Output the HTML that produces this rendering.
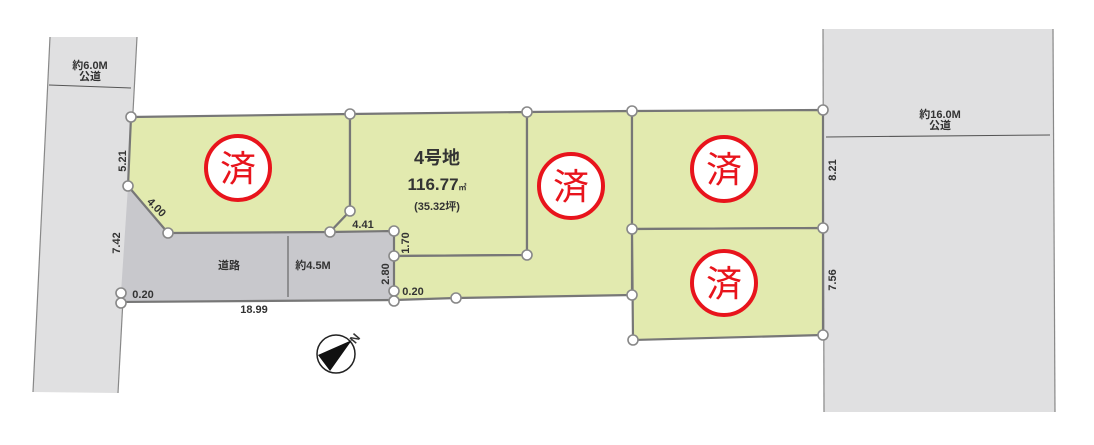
<!DOCTYPE html>
<html><head><meta charset="utf-8"><style>
html,body{margin:0;padding:0;background:#fff;}
svg{display:block;}
text{font-family:"Liberation Sans","Noto Sans CJK JP",sans-serif;fill:#333;font-weight:bold;}
</style></head><body>
<svg width="1094" height="445" viewBox="0 0 1094 445" xmlns="http://www.w3.org/2000/svg">
<!-- roads -->
<polygon points="50,37 137,37 118,393 33,392" fill="#e0e0e1"/>
<line x1="50" y1="37" x2="33" y2="392" stroke="#888" stroke-width="1.2"/>
<line x1="137" y1="37" x2="118" y2="393" stroke="#888" stroke-width="1.2"/>
<polygon points="823,29 1053,29 1055,412 824,412" fill="#e0e0e1"/>
<line x1="823" y1="29" x2="824" y2="412" stroke="#888" stroke-width="1.2"/>
<line x1="1053" y1="29" x2="1055" y2="412" stroke="#888" stroke-width="1.2"/>
<line x1="49" y1="85" x2="131" y2="88" stroke="#555" stroke-width="1"/>
<line x1="826" y1="137" x2="1050" y2="135" stroke="#555" stroke-width="1"/>
<text x="90" y="69" font-size="11" text-anchor="middle">約6.0M</text>
<text x="90" y="80" font-size="11" text-anchor="middle">公道</text>
<text x="940" y="118" font-size="11" text-anchor="middle">約16.0M</text>
<text x="940" y="129" font-size="11" text-anchor="middle">公道</text>
<!-- private road -->
<polygon points="128,186 168,233 394,231 394,300 121,302 121,293" fill="#c8c8cc"/>
<!-- lots -->
<g fill="#e2eaaf" stroke="#777" stroke-width="2.2" stroke-linejoin="round">
<polygon points="131,117 350,114 350,211 330,232 168,233 128,186"/>
<polygon points="350,114 527,112 527,255 394,256 394,231 330,232 350,211"/>
<polygon points="527,112 632,111 632,295 456,298 394,300 394,256 527,255"/>
<polygon points="632,111 823,110 823,228 632,229"/>
<polygon points="632,229 823,228 823,335 633,340"/>
</g>
<line x1="121" y1="302" x2="394" y2="300" stroke="#777" stroke-width="2.2"/>
<line x1="121" y1="293" x2="121" y2="302" stroke="#777" stroke-width="2"/>
<line x1="288" y1="236" x2="288" y2="297" stroke="#555" stroke-width="1"/>
<!-- vertices -->
<g fill="#fff" stroke="#888" stroke-width="1.6">
<circle cx="131" cy="117" r="5"/><circle cx="350" cy="114" r="5"/><circle cx="527" cy="112" r="5"/>
<circle cx="632" cy="111" r="5"/><circle cx="823" cy="110" r="5"/><circle cx="128" cy="186" r="5"/>
<circle cx="168" cy="233" r="5"/><circle cx="330" cy="232" r="5"/><circle cx="350" cy="211" r="5"/>
<circle cx="394" cy="231" r="5"/><circle cx="394" cy="256" r="5"/><circle cx="527" cy="255" r="5"/>
<circle cx="632" cy="229" r="5"/><circle cx="823" cy="228" r="5"/><circle cx="394" cy="291" r="5"/>
<circle cx="394" cy="301" r="5"/><circle cx="456" cy="298" r="5"/><circle cx="632" cy="295" r="5"/>
<circle cx="121" cy="293" r="5"/><circle cx="121" cy="303" r="5"/><circle cx="633" cy="340" r="5"/>
<circle cx="823" cy="335" r="5"/>
</g>
<!-- sold stamps -->
<g fill="#fff" stroke="#e8141c" stroke-width="4">
<circle cx="238" cy="168" r="32"/><circle cx="571" cy="186" r="32"/>
<circle cx="724" cy="169" r="32"/><circle cx="724" cy="283" r="32"/>
</g>
<g font-size="36" text-anchor="middle" style="font-weight:normal">
<text x="238" y="181" style="fill:#e8141c;font-weight:normal">済</text>
<text x="571" y="199" style="fill:#e8141c;font-weight:normal">済</text>
<text x="724" y="182" style="fill:#e8141c;font-weight:normal">済</text>
<text x="724" y="296" style="fill:#e8141c;font-weight:normal">済</text>
</g>
<!-- lot 4 label -->
<text x="437" y="164" font-size="18" text-anchor="middle">4号地</text>
<text x="437" y="190" font-size="17" text-anchor="middle">116.77<tspan font-size="8">㎡</tspan></text>
<text x="437" y="210" font-size="11" text-anchor="middle">(35.32坪)</text>
<!-- dimensions -->
<g font-size="11">
<text x="0" y="0" transform="translate(126,161) rotate(-90)" text-anchor="middle">5.21</text>
<text x="0" y="0" transform="translate(154,210) rotate(45)" text-anchor="middle">4.00</text>
<text x="0" y="0" transform="translate(120,243) rotate(-90)" text-anchor="middle">7.42</text>
<text x="363" y="228" text-anchor="middle">4.41</text>
<text x="0" y="0" transform="translate(409,243) rotate(-90)" text-anchor="middle">1.70</text>
<text x="0" y="0" transform="translate(389,274) rotate(-90)" text-anchor="middle">2.80</text>
<text x="143" y="298" text-anchor="middle">0.20</text>
<text x="413" y="295" text-anchor="middle">0.20</text>
<text x="254" y="313" text-anchor="middle">18.99</text>
<text x="229" y="269" text-anchor="middle">道路</text>
<text x="313" y="269" text-anchor="middle">約4.5M</text>
<text x="0" y="0" transform="translate(836,170) rotate(-90)" text-anchor="middle">8.21</text>
<text x="0" y="0" transform="translate(836,280) rotate(-90)" text-anchor="middle">7.56</text>
</g>
<!-- compass -->
<circle cx="336" cy="354" r="19" fill="#fff" stroke="#222" stroke-width="1.5"/>
<polygon points="318,355 352,340 330,371" fill="#111"/>
<text x="0" y="0" transform="translate(358,341) rotate(-50)" font-size="12" text-anchor="middle">N</text>
</svg>
</body></html>
